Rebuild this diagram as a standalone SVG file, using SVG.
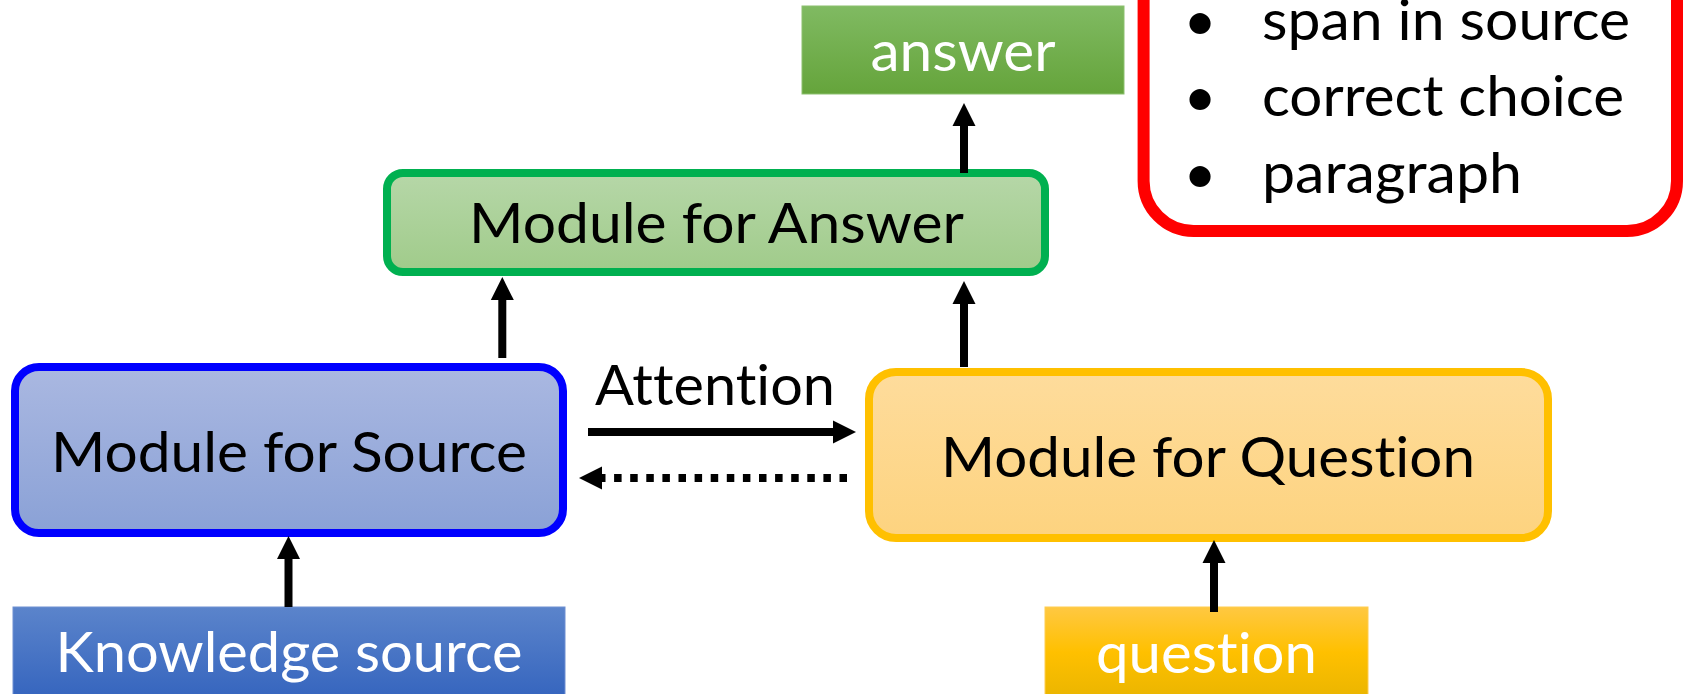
<svg xmlns="http://www.w3.org/2000/svg" width="1684" height="694" viewBox="0 0 1684 694">
<style>
.t{font-family:Lato,"Open Sans","Liberation Sans",sans-serif;font-size:57px;text-anchor:middle;font-variant-ligatures:none;font-feature-settings:"liga" 0,"clig" 0;}
.tl{font-family:Lato,"Open Sans","Liberation Sans",sans-serif;font-size:57px;font-variant-ligatures:none;font-feature-settings:"liga" 0,"clig" 0;}
.dk{fill:#000;}
.wh{fill:#fff;}
.mod{stroke-width:8;}
.conn{stroke:#000;stroke-width:8;fill:none;marker-end:url(#ah);}
.dot{stroke-dasharray:7.5 8.6;}
</style>
<defs>
<marker id="ah" markerUnits="userSpaceOnUse" viewBox="0 -12 24 24" markerWidth="24" markerHeight="24" refX="1" refY="0" orient="auto" overflow="visible">
<path d="M0,-11.5 L23,0 L0,11.5 Z" fill="#000"/>
</marker>
<linearGradient id="gA" x1="0" y1="0" x2="0" y2="1"><stop offset="0" stop-color="#b6d7a8"/><stop offset="1" stop-color="#a0cb8a"/></linearGradient>
<linearGradient id="gS" x1="0" y1="0" x2="0" y2="1"><stop offset="0" stop-color="#aab8e1"/><stop offset="1" stop-color="#8aa1d6"/></linearGradient>
<linearGradient id="gQ" x1="0" y1="0" x2="0" y2="1"><stop offset="0" stop-color="#fedc9c"/><stop offset="1" stop-color="#fdd37f"/></linearGradient>
<linearGradient id="gAns" x1="0" y1="0" x2="0" y2="1"><stop offset="0" stop-color="#80ba62"/><stop offset="1" stop-color="#65a43b"/></linearGradient>
<linearGradient id="gK" x1="0" y1="0" x2="0" y2="1"><stop offset="0" stop-color="#5b84cb"/><stop offset="1" stop-color="#3262bd"/></linearGradient>
<linearGradient id="gQs" x1="0" y1="0" x2="0" y2="1"><stop offset="0" stop-color="#ffc842"/><stop offset="0.45" stop-color="#ffc000"/><stop offset="1" stop-color="#e6b300"/></linearGradient>
</defs>

<g id="legend">
<rect x="1143.6" y="-150" width="533.4" height="381" rx="50" ry="50" fill="#fff" stroke="#ff0000" stroke-width="12"/>
<text class="tl dk" x="1200" y="40" text-anchor="middle">•</text>
<text class="tl dk" x="1262" y="40" textLength="368" lengthAdjust="spacingAndGlyphs">span in source</text>
<text class="tl dk" x="1200" y="116" text-anchor="middle">•</text>
<text class="tl dk" x="1262" y="116" textLength="362" lengthAdjust="spacingAndGlyphs">correct choice</text>
<text class="tl dk" x="1200" y="193" text-anchor="middle">•</text>
<text class="tl dk" x="1262" y="193" textLength="260" lengthAdjust="spacingAndGlyphs">paragraph</text>
</g>

<g id="answer">
<rect x="802" y="6" width="322" height="88" fill="url(#gAns)" stroke="#8cc06f" stroke-width="1"/>
<text class="t wh" x="963" y="71" textLength="185" lengthAdjust="spacingAndGlyphs">answer</text>
</g>

<g id="module-answer">
<rect class="mod" x="387" y="173" width="658" height="99" rx="16" ry="16" fill="url(#gA)" stroke="#00b050"/>
<text class="t dk" x="716.5" y="243" textLength="495" lengthAdjust="spacingAndGlyphs">Module for Answer</text>
</g>

<g id="module-source">
<rect class="mod" x="15" y="367" width="548" height="166" rx="24" ry="24" fill="url(#gS)" stroke="#0000ff"/>
<text class="t dk" x="289" y="472" textLength="476" lengthAdjust="spacingAndGlyphs">Module for Source</text>
</g>

<g id="module-question">
<rect class="mod" x="869" y="372" width="679" height="166" rx="27" ry="27" fill="url(#gQ)" stroke="#ffc000"/>
<text class="t dk" x="1208" y="477" textLength="534" lengthAdjust="spacingAndGlyphs">Module for Question</text>
</g>

<g id="knowledge-source">
<rect x="13" y="607" width="552" height="100" fill="url(#gK)" stroke="#6f8fd2" stroke-width="1"/>
<text class="t wh" x="289" y="672" textLength="467" lengthAdjust="spacingAndGlyphs">Knowledge source</text>
</g>

<g id="question">
<rect x="1045" y="607" width="323" height="100" fill="url(#gQs)" stroke="#ffcd50" stroke-width="1"/>
<text class="t wh" x="1206.5" y="673" textLength="221" lengthAdjust="spacingAndGlyphs">question</text>
</g>

<g id="attention-label">
<text class="t dk" x="715" y="405" textLength="240" lengthAdjust="spacingAndGlyphs">Attention</text>
</g>

<g id="connectors">
<path class="conn" d="M288.5,607 V558"/>
<path class="conn" d="M502.3,358 V299"/>
<path class="conn" d="M964,367 V303"/>
<path class="conn" d="M964,173 V125"/>
<path class="conn" d="M1214,612 V562"/>
<path class="conn" d="M588,432 H834"/>
<path class="conn dot" d="M847,478 H601"/>
</g>
</svg>
